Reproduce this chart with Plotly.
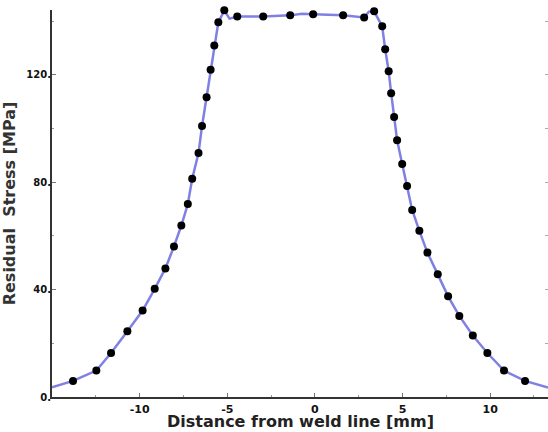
import plotly.graph_objects as go

# Measured points (distance from weld line [mm], residual stress [MPa])
pt_x = [-13.80, -12.47, -11.63, -10.70, -9.83, -9.14, -8.53, -8.04, -7.62, -7.25,
        -7.00, -6.64, -6.44, -6.18, -5.95, -5.74, -5.51, -5.17,
        -4.43, -2.95, -1.41, -0.10, 1.61, 2.81, 3.38,
        3.84, 4.01, 4.21, 4.35, 4.52, 4.69, 4.98, 5.26, 5.55, 5.96, 6.42,
        7.01, 7.60, 8.24, 9.01, 9.84, 10.79, 11.99]
pt_y = [6.0, 9.85, 16.4, 24.5, 32.2, 40.3, 47.9, 56.1, 63.9, 71.9,
        81.3, 90.9, 101.0, 111.7, 121.9, 131.0, 139.6, 144.1,
        141.8, 141.8, 142.2, 142.6, 142.2, 141.4, 143.7,
        138.1, 129.6, 121.4, 113.2, 104.3, 95.7, 86.8, 78.6, 69.7, 61.9, 53.8,
        45.7, 37.5, 30.2, 22.9, 16.4, 9.85, 6.0]

# Fitted curve vertices
curve_x = [-15.0, -13.80, -12.47, -11.63, -10.70, -9.83, -9.14, -8.53, -8.04, -7.62, -7.25,
           -7.00, -6.64, -6.44, -6.18, -5.95, -5.74, -5.51, -5.17, -4.87,
           -4.43, -2.95, -1.41, -0.74, -0.10, 1.61, 2.81, 3.08, 3.38,
           3.84, 4.01, 4.21, 4.35, 4.52, 4.69, 4.98, 5.26, 5.55, 5.96, 6.42,
           7.01, 7.60, 8.24, 9.01, 9.84, 10.79, 11.99, 13.3]
curve_y = [3.6, 6.0, 9.85, 16.4, 24.5, 32.2, 40.3, 47.9, 56.1, 63.9, 71.9,
           81.3, 90.9, 101.0, 111.7, 121.9, 131.0, 139.6, 144.0, 141.0,
           141.8, 141.8, 142.2, 142.8, 142.6, 142.2, 141.4, 143.6, 143.7,
           138.1, 129.6, 121.4, 113.2, 104.3, 95.7, 86.8, 78.6, 69.7, 61.9, 53.8,
           45.7, 37.5, 30.2, 22.9, 16.4, 9.85, 6.0, 3.5]

x_tickvals = [-10, -5, 0, 5, 10]
x_ticktext = ["-10", "-5", "0", "5", "10"]
y_tickvals = [0, 40, 80, 120]
y_ticktext = ["0.", "40.", "80.", "120."]
x_title = "Distance from weld line [mm]"
y_title = "Residual  Stress [MPa]"

fig = go.Figure()
fig.add_trace(go.Scatter(x=curve_x, y=curve_y, mode="lines",
                         line=dict(color="rgb(128,128,228)", width=2.5),
                         hoverinfo="skip", showlegend=False, cliponaxis=True))
fig.add_trace(go.Scatter(x=pt_x, y=pt_y, mode="markers",
                         marker=dict(color="black", size=8),
                         showlegend=False, cliponaxis=False))
fig.add_trace(go.Scatter(x=pt_x, y=pt_y, mode="markers", yaxis="y2",
                         marker=dict(opacity=0), hoverinfo="skip", showlegend=False))

font_main = "DejaVu Sans"
fig.update_layout(
    width=548, height=432,
    margin=dict(l=52, r=0, t=10, b=35),
    paper_bgcolor="white", plot_bgcolor="white",
    xaxis=dict(range=[-15, 13.3], showgrid=False, zeroline=False, automargin=False,
               showline=True, linecolor="#333", linewidth=2,
               ticks="inside", ticklen=4, tickcolor="#777", tickwidth=1,
               tickvals=x_tickvals, ticktext=x_ticktext, ticklabelstandoff=1,
               minor=dict(dtick=2.5, tick0=0, ticks="inside", ticklen=2, tickcolor="#999"),
               tickfont=dict(family=font_main, size=11, color="#111", weight="bold")),
    yaxis=dict(range=[0, 144.2], showgrid=False, zeroline=False, automargin=False,
               showline=True, linecolor="#333", linewidth=2,
               ticks="inside", ticklen=4, tickcolor="#777", tickwidth=1,
               tickvals=y_tickvals, ticktext=y_ticktext, ticklabelstandoff=-3,
               minor=dict(dtick=20, tick0=0, ticks="inside", ticklen=2, tickcolor="#999"),
               tickfont=dict(family=font_main, size=10, color="#111", weight="bold"),
               title=dict(text=y_title, standoff=8,
                          font=dict(family=font_main, size=16, color="#333", weight="bold"))),
    yaxis2=dict(range=[0, 144.2], overlaying="y", side="right", showgrid=False,
                automargin=False,
                zeroline=False, showline=False, showticklabels=False,
                ticks="inside", ticklen=3, tickcolor="#aaa", dtick=20),
    annotations=[dict(text=x_title, xref="paper", yref="paper", x=0.5, y=0,
                      xanchor="center", yanchor="middle", yshift=-24, showarrow=False,
                      font=dict(family=font_main, size=16, color="#222", weight="bold"))],
)

# remove the default 8px page margin so the figure fills the window exactly
page_fix = ("document.body.style.margin='0';"
            "document.documentElement.style.overflow='hidden';"
            "document.body.style.overflow='hidden';")
fig.write_html("out.html", post_script=page_fix, config={"displayModeBar": False})
